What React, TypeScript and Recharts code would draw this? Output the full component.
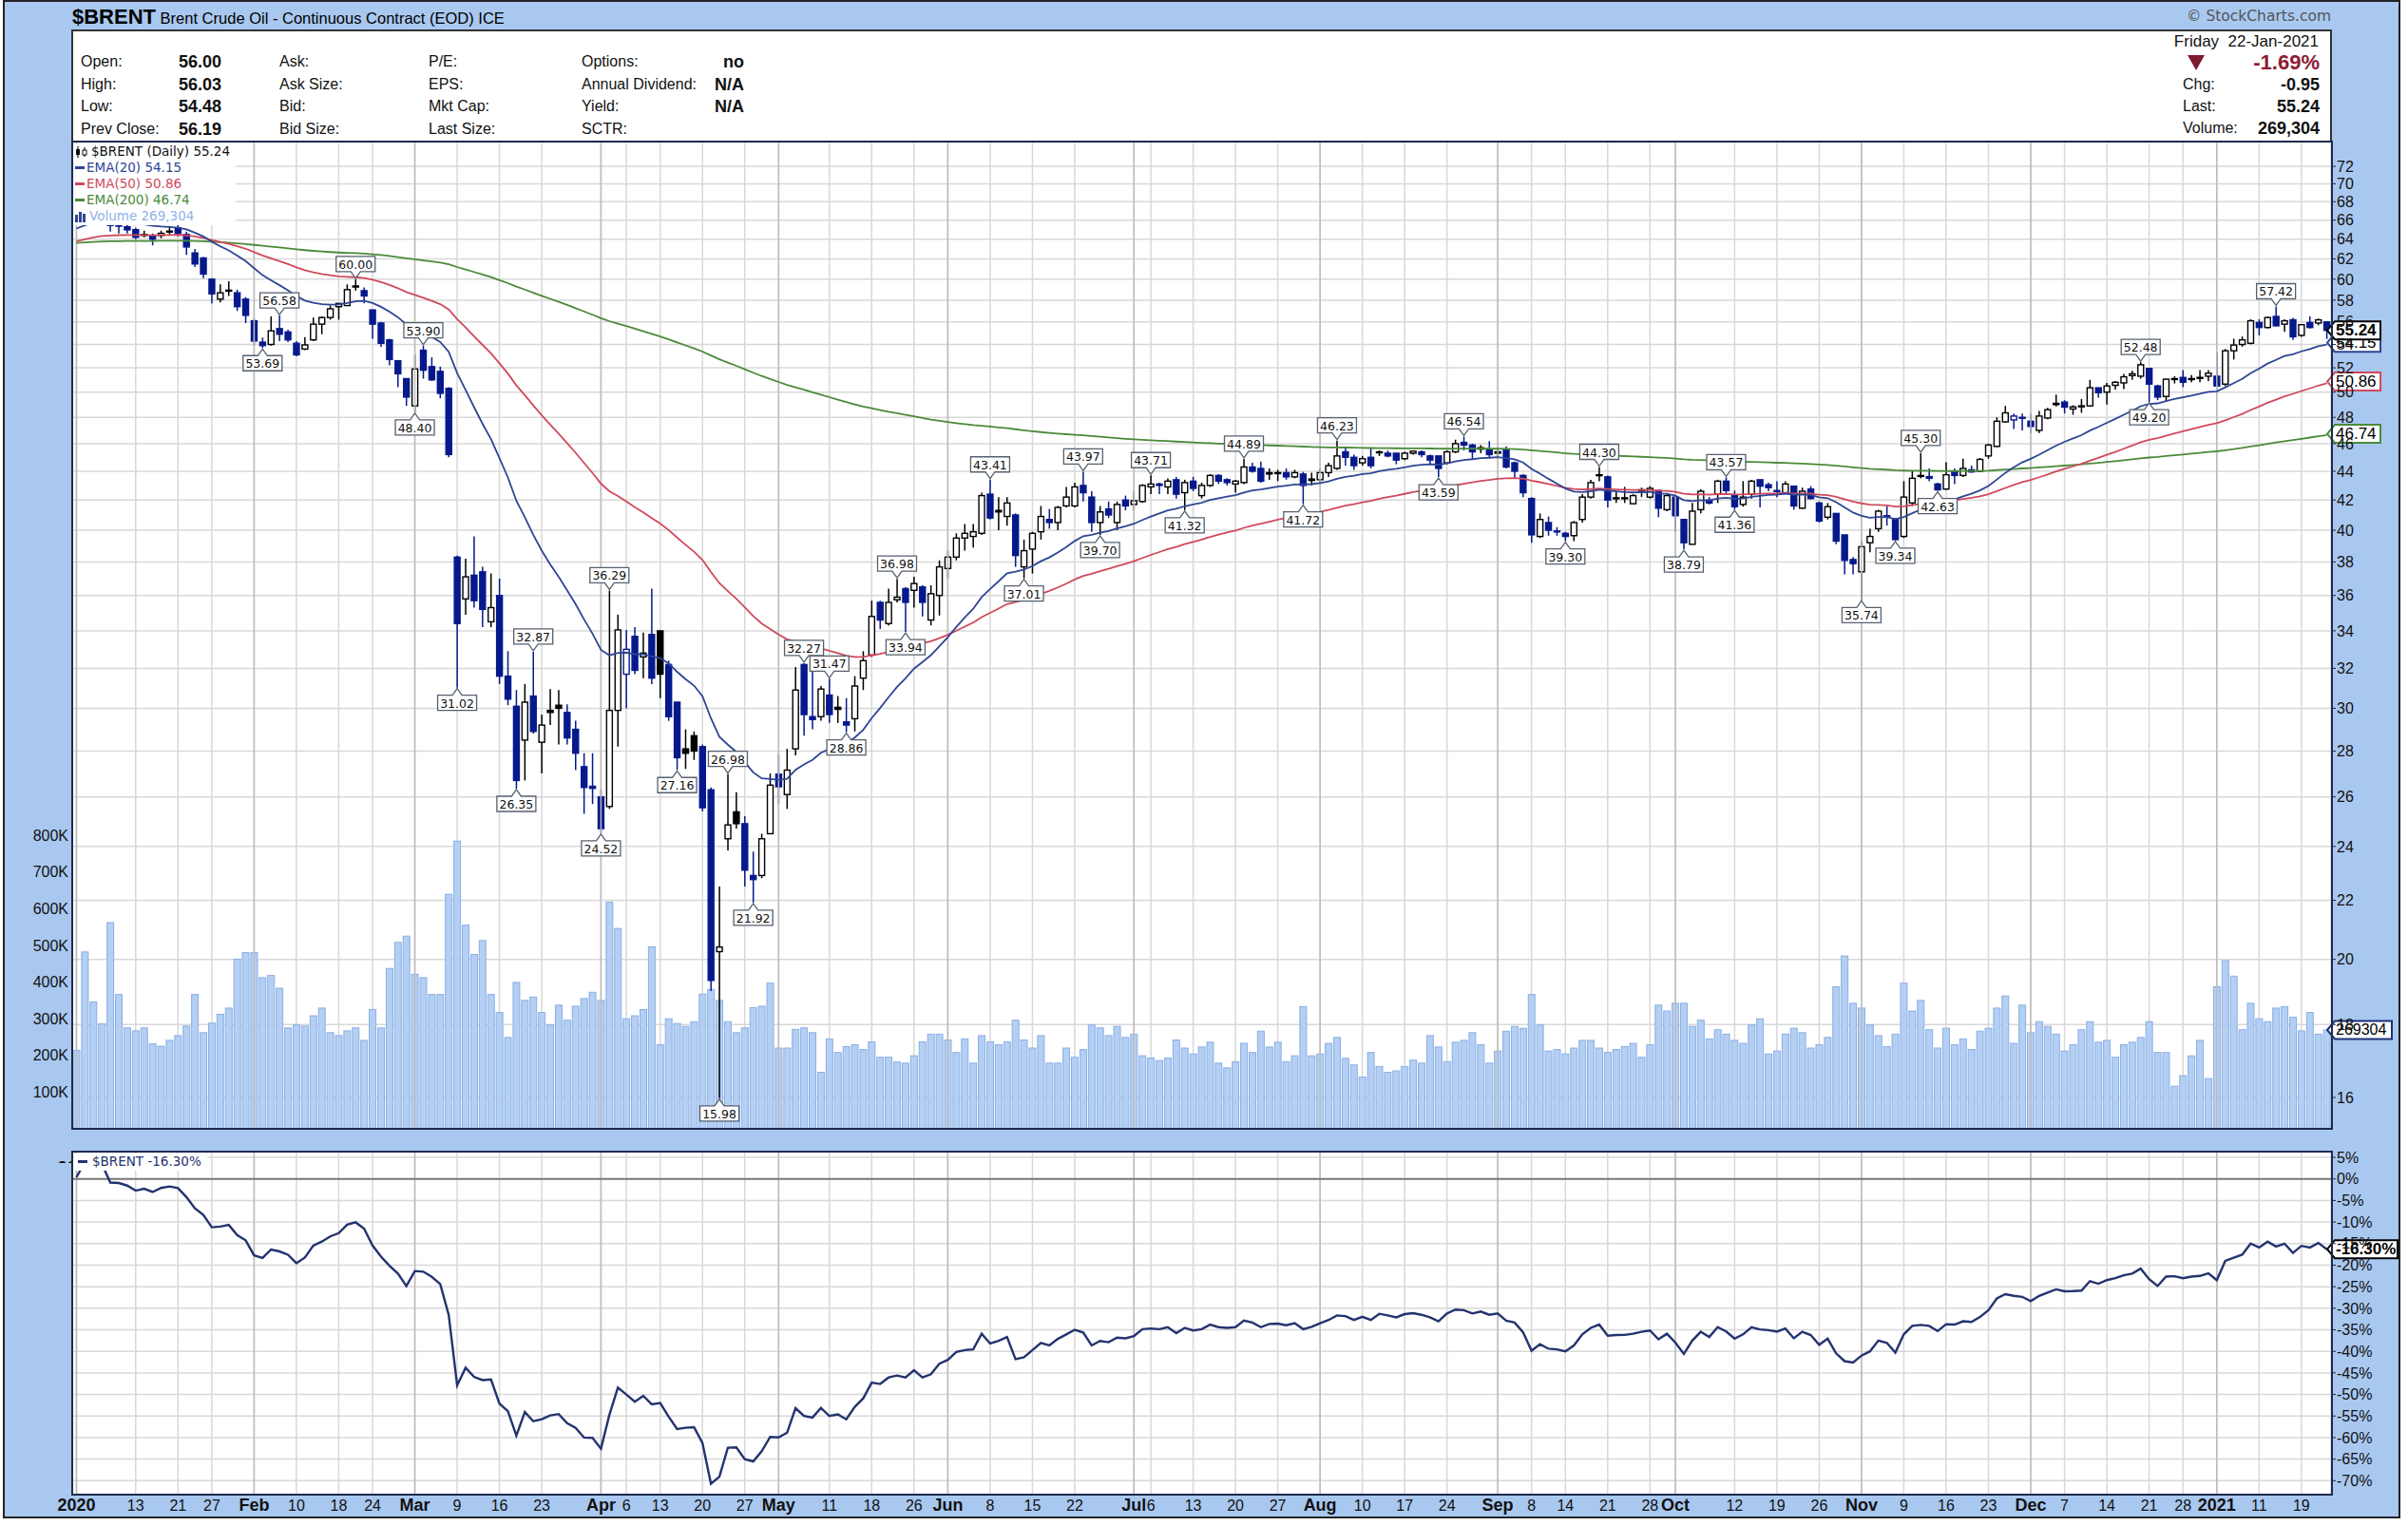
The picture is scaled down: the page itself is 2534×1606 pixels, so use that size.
import React from "react";
import { ComposedChart, Bar, Line, XAxis, YAxis, CartesianGrid, ReferenceLine } from "recharts";

// ---------------- data ----------------
const HOLIDAYS = ["2020-01-20", "2020-02-17", "2020-04-10", "2020-05-25", "2020-07-03", "2020-09-07", "2020-11-26", "2020-12-25", "2021-01-01", "2021-01-18"];

function tradingDays(): string[] {
  const out: string[] = [];
  const d = new Date(Date.UTC(2020, 0, 2));
  const end = Date.UTC(2021, 0, 22);
  while (d.getTime() <= end) {
    const wd = d.getUTCDay();
    const s = d.toISOString().slice(0, 10);
    if (wd !== 0 && wd !== 6 && !HOLIDAYS.includes(s)) out.push(s);
    d.setUTCDate(d.getUTCDate() + 1);
  }
  return out;
}
const DATES = tradingDays();

const OPEN = [
  66.00, 66.40, 68.90, 68.90, 68.30, 65.70, 65.30, 65.00, 64.50, 64.40,
  64.40, 64.80, 65.20, 64.50, 62.60, 62.10, 60.00, 58.10, 58.85, 58.70,
  58.10, 56.10, 54.20, 54.00, 55.40, 55.10, 54.10, 53.60, 54.40, 55.80,
  56.40, 57.40, 57.50, 59.25, 58.90, 57.10, 55.90, 54.40, 52.60, 51.10,
  48.90, 53.50, 52.10, 51.70, 50.30, 38.30, 35.80, 37.20, 37.40, 34.50,
  36.00, 31.60, 30.10, 28.50, 30.60, 28.40, 29.90, 30.15, 29.80, 29.00,
  27.30, 26.45, 26.00, 25.60, 29.90, 31.70, 33.70, 32.60, 33.80, 34.00,
  32.20, 30.30, 28.10, 28.70, 28.20, 26.30, 20.25, 24.30, 25.38, 24.90,
  22.90, 22.90, 24.50, 26.97, 26.10, 28.10, 32.20, 29.60, 29.60, 30.65,
  30.05, 29.35, 29.50, 31.50, 32.70, 35.60, 34.40, 35.75, 36.40, 36.30,
  36.50, 34.60, 36.00, 37.60, 38.30, 39.50, 39.60, 39.80, 42.40, 41.30,
  40.90, 41.00, 37.70, 38.80, 39.90, 40.70, 40.50, 41.60, 41.60, 43.00,
  42.20, 40.50, 41.40, 40.50, 42.00, 41.70, 41.90, 42.90, 43.10, 42.90,
  43.40, 42.50, 43.30, 42.30, 43.00, 43.70, 43.40, 43.10, 43.20, 44.30,
  44.20, 43.90, 43.90, 43.90, 43.60, 43.80, 43.45, 43.40, 43.90, 44.20,
  45.40, 45.00, 44.60, 45.00, 45.40, 45.30, 45.30, 44.90, 45.30, 45.40,
  45.10, 45.10, 44.60, 45.40, 46.10, 45.90, 45.60, 45.60, 45.30, 45.60,
  44.60, 43.70, 42.10, 39.60, 40.50, 39.95, 39.80, 39.65, 40.70, 42.20,
  43.75, 43.60, 42.15, 42.15, 41.75, 42.70, 42.20, 42.65, 41.35, 42.20,
  40.70, 39.10, 41.35, 42.00, 42.40, 43.30, 42.30, 41.70, 42.40, 43.40,
  43.05, 42.65, 42.50, 42.95, 41.45, 42.75, 41.80, 40.85, 41.10, 39.70,
  38.15, 37.40, 39.20, 40.10, 40.95, 40.75, 39.60, 41.80, 43.70, 43.62,
  43.10, 42.75, 43.95, 43.70, 43.95, 44.00, 45.10, 45.80, 47.65, 47.80,
  48.00, 47.70, 47.00, 47.95, 49.00, 49.20, 48.65, 48.85, 48.90, 50.35,
  50.00, 50.55, 50.75, 51.35, 51.30, 51.95, 50.50, 49.65, 51.05, 51.20,
  51.10, 51.20, 51.30, 51.30, 50.65, 53.45, 54.00, 54.10, 55.95, 55.50,
  56.50, 55.80, 56.20, 54.80, 55.95, 55.90, 56.00,
];
const HIGH = [
  66.60, 69.50, 70.70, 69.20, 71.75, 66.00, 65.70, 65.20, 64.90, 64.60,
  64.90, 65.30, 65.50, 64.80, 63.00, 62.20, 60.10, 59.50, 59.80, 59.00,
  58.30, 56.30, 54.60, 56.50, 56.58, 55.30, 54.30, 54.65, 56.40, 56.50,
  57.50, 57.70, 59.50, 60.00, 59.20, 57.10, 56.00, 54.50, 52.60, 51.10,
  53.10, 53.90, 52.90, 52.10, 50.40, 38.40, 38.20, 39.60, 37.70, 37.30,
  37.00, 32.90, 30.90, 31.20, 32.87, 29.70, 30.95, 30.90, 30.20, 29.40,
  27.90, 27.90, 26.30, 36.29, 34.90, 34.05, 34.20, 33.90, 36.40, 34.00,
  32.40, 30.30, 29.00, 28.90, 28.30, 26.40, 22.50, 26.98, 26.20, 25.20,
  23.80, 24.50, 27.00, 27.86, 28.10, 32.07, 32.27, 31.90, 31.10, 31.47,
  30.60, 30.50, 31.60, 32.90, 35.70, 35.70, 36.40, 36.98, 36.50, 37.10,
  36.60, 36.60, 38.10, 38.70, 39.80, 40.40, 40.40, 42.50, 43.41, 42.20,
  42.20, 41.10, 39.40, 39.90, 41.60, 41.40, 41.60, 42.90, 43.20, 43.97,
  42.60, 41.60, 41.90, 41.90, 42.30, 42.60, 43.10, 43.71, 43.20, 43.50,
  43.60, 43.40, 43.60, 43.20, 43.80, 43.80, 43.50, 43.40, 44.89, 44.60,
  44.70, 44.20, 44.10, 44.20, 44.10, 43.95, 43.90, 44.20, 44.60, 46.23,
  45.70, 45.20, 45.10, 45.70, 45.50, 45.50, 45.30, 45.40, 45.50, 45.50,
  45.20, 45.10, 45.50, 46.30, 46.54, 46.00, 45.90, 46.20, 45.70, 45.80,
  44.70, 43.80, 42.20, 41.10, 40.90, 40.20, 39.90, 40.60, 42.40, 43.40,
  44.30, 43.70, 42.60, 42.90, 42.40, 42.85, 42.95, 42.70, 42.45, 42.30,
  40.75, 41.80, 42.75, 42.20, 43.40, 43.57, 42.65, 43.30, 43.40, 43.40,
  43.20, 43.30, 43.30, 42.95, 42.85, 42.95, 41.90, 41.80, 41.10, 39.70,
  38.30, 39.30, 40.10, 41.35, 41.57, 40.75, 43.30, 44.00, 45.30, 44.20,
  43.20, 44.65, 44.20, 44.90, 44.40, 44.95, 46.00, 48.00, 48.90, 48.30,
  48.30, 48.30, 48.50, 48.75, 49.80, 49.35, 48.95, 49.45, 51.00, 50.35,
  50.75, 50.90, 51.50, 51.75, 52.48, 52.00, 50.60, 51.10, 51.30, 51.80,
  51.40, 51.80, 51.80, 53.30, 53.60, 54.50, 54.70, 56.24, 56.24, 56.50,
  57.42, 56.24, 56.38, 55.80, 56.50, 56.30, 56.03,
];
const LOW = [
  65.60, 66.20, 68.30, 67.90, 64.80, 64.60, 64.60, 64.00, 64.20, 63.37,
  64.10, 64.50, 64.30, 62.40, 61.20, 60.10, 57.70, 57.80, 58.40, 57.00,
  55.90, 53.90, 53.69, 53.90, 54.30, 54.20, 53.00, 53.50, 54.30, 54.90,
  56.20, 56.20, 57.50, 58.90, 57.70, 54.50, 53.80, 52.20, 50.40, 48.90,
  48.40, 51.10, 50.90, 49.50, 45.00, 31.02, 34.90, 35.30, 34.20, 34.20,
  31.20, 30.15, 26.35, 26.70, 28.80, 27.00, 29.20, 28.30, 28.30, 27.15,
  25.30, 25.70, 24.52, 25.50, 28.20, 30.00, 31.70, 31.50, 31.20, 30.50,
  29.40, 27.16, 27.20, 27.60, 25.40, 19.00, 15.98, 23.85, 24.70, 22.50,
  21.92, 22.80, 24.50, 25.70, 25.50, 27.80, 28.70, 29.00, 29.40, 29.30,
  29.30, 28.86, 28.90, 30.90, 32.60, 34.10, 34.30, 35.60, 33.94, 35.30,
  34.80, 34.30, 34.85, 37.00, 38.10, 38.70, 38.90, 39.70, 40.70, 40.00,
  40.30, 37.70, 37.01, 37.30, 39.40, 40.10, 40.00, 41.50, 41.50, 41.90,
  39.90, 39.70, 40.80, 40.00, 41.30, 41.30, 41.80, 42.40, 42.40, 42.40,
  42.10, 41.32, 42.60, 42.10, 42.90, 43.10, 43.00, 42.50, 43.10, 43.90,
  43.20, 43.40, 43.30, 43.40, 43.50, 41.72, 43.00, 43.10, 43.60, 44.10,
  44.40, 44.10, 44.40, 44.20, 45.10, 45.00, 44.50, 44.80, 45.20, 45.00,
  44.50, 43.59, 44.50, 45.30, 45.50, 44.90, 45.30, 45.00, 45.00, 44.20,
  43.50, 42.20, 39.20, 39.50, 39.65, 39.65, 39.30, 39.30, 40.50, 42.10,
  43.30, 41.50, 41.80, 41.80, 41.70, 42.20, 42.10, 40.85, 41.25, 39.90,
  38.79, 39.10, 41.10, 41.70, 41.80, 42.40, 41.36, 41.55, 42.10, 41.50,
  42.60, 42.20, 42.45, 41.35, 41.40, 42.05, 40.50, 40.70, 39.10, 37.25,
  37.25, 35.74, 38.60, 39.90, 40.30, 39.34, 39.50, 41.60, 43.50, 43.30,
  42.63, 42.70, 43.10, 43.60, 43.90, 43.95, 44.90, 45.75, 47.60, 47.10,
  47.00, 46.80, 46.80, 47.85, 48.85, 48.30, 48.20, 48.35, 48.85, 49.55,
  49.00, 50.20, 50.25, 51.00, 51.10, 49.20, 49.35, 49.25, 50.70, 50.40,
  50.80, 50.80, 50.90, 50.40, 50.50, 52.70, 53.80, 54.00, 54.80, 55.40,
  55.60, 55.10, 54.40, 54.67, 55.40, 55.70, 54.48,
];
const CLOSE = [
  66.25, 68.60, 68.90, 68.30, 65.44, 65.37, 64.98, 64.20, 64.49, 64.00,
  64.62, 64.85, 64.59, 63.21, 61.50, 60.50, 58.60, 58.70, 58.95, 57.40,
  56.60, 54.30, 53.90, 55.20, 54.90, 54.40, 53.10, 53.96, 55.80, 56.40,
  57.20, 57.70, 59.00, 59.35, 58.40, 55.80, 54.10, 52.70, 51.50, 49.60,
  51.90, 51.80, 51.00, 49.90, 45.20, 34.40, 37.10, 35.70, 35.20, 35.30,
  31.60, 30.45, 26.70, 30.30, 28.90, 29.20, 29.80, 30.00, 28.60, 27.90,
  26.40, 26.36, 24.70, 29.90, 34.05, 33.00, 31.90, 32.80, 31.50, 31.70,
  29.60, 27.70, 27.90, 28.00, 25.55, 19.33, 20.40, 24.85, 24.90, 23.10,
  22.75, 24.30, 26.50, 26.43, 27.15, 30.90, 29.70, 29.46, 30.95, 29.70,
  29.95, 29.20, 31.10, 32.40, 34.80, 34.60, 35.60, 35.90, 35.60, 36.70,
  35.60, 36.10, 37.70, 38.30, 39.50, 39.80, 39.90, 42.30, 40.80, 41.20,
  41.80, 38.40, 38.70, 39.80, 40.90, 40.50, 41.50, 42.20, 42.90, 42.50,
  40.50, 41.20, 41.00, 41.70, 41.60, 41.95, 43.00, 43.10, 43.00, 43.30,
  42.40, 43.20, 42.80, 43.00, 43.70, 43.30, 43.20, 43.30, 44.30, 44.00,
  43.30, 43.80, 43.85, 43.60, 43.90, 43.00, 43.35, 43.90, 44.40, 45.10,
  45.00, 44.40, 44.90, 44.40, 45.35, 45.10, 44.80, 45.30, 45.45, 45.20,
  44.80, 44.20, 45.40, 46.00, 45.90, 45.40, 45.70, 45.20, 45.40, 44.30,
  44.00, 42.50, 39.70, 40.70, 40.00, 39.90, 39.60, 40.50, 42.20, 43.20,
  43.70, 42.00, 42.10, 42.12, 42.30, 42.60, 42.80, 41.45, 42.30, 40.95,
  39.20, 41.25, 42.60, 41.80, 43.30, 42.65, 41.55, 42.20, 43.30, 42.95,
  42.85, 42.62, 43.10, 41.60, 42.60, 42.10, 40.60, 41.55, 39.30, 38.10,
  37.90, 38.95, 39.60, 41.25, 40.90, 39.40, 42.20, 43.50, 43.65, 43.50,
  42.70, 43.75, 43.70, 44.20, 44.10, 44.85, 45.90, 47.70, 48.35, 48.10,
  47.95, 47.30, 48.10, 48.60, 49.10, 48.80, 48.82, 48.90, 50.35, 49.95,
  50.50, 50.80, 51.25, 51.50, 52.26, 50.65, 49.60, 51.05, 51.10, 50.80,
  51.05, 51.15, 51.55, 50.50, 53.45, 53.95, 54.40, 56.10, 55.50, 56.40,
  55.65, 56.10, 54.67, 55.75, 55.50, 56.19, 55.24,
];
const VOLUME_K = [
  214, 482, 346, 286, 562, 366, 275, 267, 275, 232,
  225, 241, 254, 280, 366, 262, 288, 312, 329, 462,
  480, 480, 412, 418, 383, 275, 283, 280, 308, 329,
  262, 254, 267, 275, 241, 325, 275, 437, 508, 525,
  421, 412, 366, 366, 639, 784, 555, 475, 513, 366,
  317, 249, 399, 350, 359, 317, 283, 337, 296, 334,
  355, 372, 350, 618, 546, 300, 308, 325, 496, 229,
  300, 287, 279, 292, 367, 380, 350, 292, 262, 275,
  330, 334, 397, 220, 220, 271, 275, 262, 154, 245,
  208, 224, 229, 216, 237, 195, 195, 182, 179, 199,
  237, 258, 258, 242, 208, 245, 179, 254, 237, 229,
  237, 296, 242, 220, 254, 179, 179, 220, 195, 216,
  283, 275, 254, 279, 249, 258, 199, 193, 186, 193,
  242, 220, 204, 223, 236, 179, 166, 183, 233, 208,
  266, 223, 236, 183, 199, 333, 199, 204, 233, 249,
  192, 174, 141, 208, 170, 154, 158, 170, 187, 179,
  254, 223, 183, 236, 241, 262, 229, 179, 212, 266,
  279, 274, 366, 283, 212, 216, 204, 220, 241, 241,
  220, 208, 216, 224, 233, 195, 229, 337, 321, 342,
  342, 279, 296, 245, 270, 258, 241, 233, 283, 300,
  204, 212, 258, 274, 262, 220, 229, 249, 387, 471,
  342, 329, 283, 254, 224, 258, 397, 321, 350, 270,
  220, 274, 229, 245, 216, 266, 274, 329, 362, 233,
  337, 262, 292, 279, 258, 212, 229, 270, 292, 236,
  241, 195, 229, 236, 249, 292, 208, 208, 116, 145,
  199, 241, 137, 387, 458, 416, 270, 342, 300, 292,
  329, 333, 304, 267, 317, 258, 269.304,
];

const PREV_CLOSE_2019 = 66.0;
const EMA20_SEED = 65.0;
const EMA50_SEED = 63.7;
const EMA200_SEED = 63.6;

const ANNOT_HIGH_DATES = ["2020-02-06", "2020-02-20", "2020-03-03", "2020-03-20", "2020-04-02", "2020-04-23", "2020-05-06", "2020-05-11", "2020-05-21", "2020-06-08", "2020-06-23", "2020-07-06", "2020-07-21", "2020-08-05", "2020-08-26", "2020-09-18", "2020-10-09", "2020-11-11", "2020-12-18", "2021-01-13"];
const ANNOT_LOW_DATES = ["2020-02-04", "2020-03-02", "2020-03-09", "2020-03-18", "2020-04-01", "2020-04-15", "2020-04-22", "2020-04-28", "2020-05-13", "2020-05-22", "2020-06-12", "2020-06-25", "2020-07-10", "2020-07-30", "2020-08-21", "2020-09-14", "2020-10-02", "2020-10-12", "2020-11-02", "2020-11-06", "2020-11-13", "2020-12-21"];

const TICK_DATES = ["2020-01-02", "2020-01-13", "2020-01-21", "2020-01-27", "2020-02-03", "2020-02-10", "2020-02-18", "2020-02-24", "2020-03-02", "2020-03-09", "2020-03-16", "2020-03-23", "2020-04-01", "2020-04-06", "2020-04-13", "2020-04-20", "2020-04-27", "2020-05-01", "2020-05-11", "2020-05-18", "2020-05-26", "2020-06-01", "2020-06-08", "2020-06-15", "2020-06-22", "2020-07-01", "2020-07-06", "2020-07-13", "2020-07-20", "2020-07-27", "2020-08-03", "2020-08-10", "2020-08-17", "2020-08-24", "2020-09-01", "2020-09-08", "2020-09-14", "2020-09-21", "2020-09-28", "2020-10-01", "2020-10-12", "2020-10-19", "2020-10-26", "2020-11-02", "2020-11-09", "2020-11-16", "2020-11-23", "2020-12-01", "2020-12-07", "2020-12-14", "2020-12-21", "2020-12-28", "2021-01-04", "2021-01-11", "2021-01-19"];
const TICK_LABELS = ["2020", "13", "21", "27", "Feb", "10", "18", "24", "Mar", "9", "16", "23", "Apr", "6", "13", "20", "27", "May", "11", "18", "26", "Jun", "8", "15", "22", "Jul", "6", "13", "20", "27", "Aug", "10", "17", "24", "Sep", "8", "14", "21", "28", "Oct", "12", "19", "26", "Nov", "9", "16", "23", "Dec", "7", "14", "21", "28", "2021", "11", "19"];

const PRICE_TICKS = [16, 18, 20, 22, 24, 26, 28, 30, 32, 34, 36, 38, 40, 42, 44, 46, 48, 50, 52, 54, 56, 58, 60, 62, 64, 66, 68, 70, 72];
const PRICE_MINOR = [16, 17, 18, 19, 20, 21, 22, 23, 24, 25, 26, 27, 28, 29, 30, 31, 32, 33, 34, 35, 36, 37, 38, 39, 40, 41, 42, 43, 44, 45, 46, 47, 48, 49, 50, 51, 52, 53, 54, 55, 56, 57, 58, 59, 60, 61, 62, 63, 64, 65, 66, 67, 68, 69, 70, 71, 72, 73, 74];
const VOL_TICKS = [100, 200, 300, 400, 500, 600, 700, 800];
const PERF_TICKS = [5, 0, -5, -10, -15, -20, -25, -30, -35, -40, -45, -50, -55, -60, -65, -70];
const PERF_MINOR = [6, 5, 4, 3, 2, 1, 0, -1, -2, -3, -4, -5, -6, -7, -8, -9, -10, -11, -12, -13, -14, -15, -16, -17, -18, -19, -20, -21, -22, -23, -24, -25, -26, -27, -28, -29, -30, -31, -32, -33, -34, -35, -36, -37, -38, -39, -40, -41, -42, -43, -44, -45, -46, -47, -48, -49, -50, -51, -52, -53, -54, -55, -56, -57, -58, -59, -60, -61, -62, -63, -64, -65, -66, -67, -68, -69, -70, -71, -72, -73];

const PRICE_DOMAIN = [15.21, 74.94];
const VOL_DOMAIN = [0, 2690];
const PERF_DOMAIN = [-73.24, 6.33];

// ---------------- derived ----------------
function ema(values: number[], period: number, seed: number) {
  const k = 2 / (period + 1);
  let e = seed;
  return values.map((v) => (e += k * (v - e)));
}
const E20 = ema(CLOSE, 20, EMA20_SEED);
const E50 = ema(CLOSE, 50, EMA50_SEED);
const E200 = ema(CLOSE, 200, EMA200_SEED);

const rows = DATES.map((date, i) => ({
  date,
  o: OPEN[i],
  h: HIGH[i],
  l: LOW[i],
  c: CLOSE[i],
  pc: i > 0 ? CLOSE[i - 1] : PREV_CLOSE_2019,
  vol: VOLUME_K[i],
  e20: E20[i],
  e50: E50[i],
  e200: E200[i],
  perf: (CLOSE[i] / PREV_CLOSE_2019 - 1) * 100,
  annH: ANNOT_HIGH_DATES.includes(date) ? HIGH[i] : null,
  annL: ANNOT_LOW_DATES.includes(date) ? LOW[i] : null,
}));

const MONTH_DATES = TICK_DATES.filter((_, i) => isNaN(Number(TICK_LABELS[i])) || TICK_LABELS[i].length === 4);

// ---------------- styles ----------------
const SANS = "Liberation Sans, Arial, sans-serif";
const DV = "DejaVu Sans, Verdana, sans-serif";
const FRAME = "#a9c8f0";
const BORDER = "#1d2a4c";
const CANDLE_BLUE = "#06198c";
const C_E20 = "#2f4595";
const C_E50 = "#d04a5c";
const C_E200 = "#4b8a3a";
const C_PERF = "#24336f";
const GRID = "#d8d8d8";

// ---------------- shapes ----------------
const EmptyTick = () => <g />;

const DateTick = (p: any) => {
  const { x, y, payload } = p;
  const i = TICK_DATES.indexOf(payload.value);
  const label = i >= 0 ? TICK_LABELS[i] : "";
  const bold = isNaN(Number(label)) || label.length === 4;
  return (
    <text x={x} y={y + 17} textAnchor="middle" fontFamily={SANS} fontSize={bold ? 18 : 16} fontWeight={bold ? 700 : 400} fill="#111">
      {label}
    </text>
  );
};

const VolShape = (p: any) => {
  const { x, y, width, height } = p;
  if (height == null || isNaN(height)) return <g />;
  const cx = x + width / 2;
  const w = 7;
  return <rect x={cx - w / 2} y={y} width={w} height={Math.max(height, 0)} fill="#b3cff4" stroke="#8caee2" strokeWidth={1} />;
};

const Candle = (p: any) => {
  const { x, y, width, height, payload } = p;
  if (!payload || height == null || isNaN(height)) return <g />;
  const { o, h, l, c, pc } = payload;
  const top = Math.min(y, y + height);
  const bot = Math.max(y, y + height);
  const lh = Math.log(h);
  const ll = Math.log(l);
  const pix = (v: number) => (lh === ll ? top : top + ((lh - Math.log(v)) / (lh - ll)) * (bot - top));
  const cx = x + width / 2;
  const color = c >= pc ? "#000" : CANDLE_BLUE;
  const hollow = c > o;
  const yo = pix(o);
  const yc = pix(c);
  const bTop = Math.min(yo, yc);
  const bh = Math.max(Math.abs(yo - yc), 1);
  const bw = 6;
  return (
    <g>
      <line x1={cx} x2={cx} y1={top} y2={bot} stroke={color} strokeWidth={1.5} />
      <rect x={cx - bw / 2} y={bTop} width={bw} height={bh} fill={hollow ? "#fff" : color} stroke={color} strokeWidth={1.4} />
    </g>
  );
};

const makeAnnot = (above: boolean) => (p: any) => {
  const { cx, cy, value, index } = p;
  if (value == null || cy == null || isNaN(cy)) return <g key={`a${above ? "h" : "l"}${index}`} />;
  const txt = Number(value).toFixed(2);
  const w = 41;
  const h = 16;
  const n = 7;
  const tip = above ? cy - 1 : cy + 1;
  const edge = above ? tip - n : tip + n;
  const far = above ? edge - h : edge + h;
  const L = cx - w / 2;
  const R = cx + w / 2;
  const d = `M${L},${far} H${R} V${edge} H${cx + 5} L${cx},${tip} L${cx - 5},${edge} H${L} Z`;
  return (
    <g key={`a${above ? "h" : "l"}${index}`}>
      <path d={d} fill="#fff" stroke="#55606e" strokeWidth={1.3} />
      <text x={cx} y={(far + edge) / 2 + 0.5} textAnchor="middle" dominantBaseline="central" fontFamily={DV} fontSize={12.5} fill="#111">
        {txt}
      </text>
    </g>
  );
};

function tagLabel(text: string, border: string, w: number, bold: boolean, color = "#000", fs = 17) {
  return (p: any) => {
    const vb = p.viewBox || {};
    const x0 = (vb.x ?? 0) + (vb.width ?? 0) - 4;
    const y = vb.y ?? 0;
    const hh = 9.5;
    return (
      <g>
        <path d={`M${x0},${y} L${x0 + 8},${y - hh} H${x0 + w} V${y + hh} H${x0 + 8} Z`} fill="#fff" stroke={border} strokeWidth={2} />
        <text x={x0 + 9} y={y + 1} dominantBaseline="middle" fontFamily={SANS} fontSize={fs} fontWeight={bold ? 700 : 400} fill={color}>
          {text}
        </text>
      </g>
    );
  };
}

// ---------------- small html helpers ----------------
const TL = ({ x, y, children, style }: any) => (
  <div style={{ position: "absolute", left: x, top: y, transform: "translateY(-50%)", whiteSpace: "nowrap", lineHeight: 1, ...style }}>{children}</div>
);
const TR = ({ x, y, children, style }: any) => (
  <div style={{ position: "absolute", right: 2534 - x, top: y, transform: "translateY(-50%)", whiteSpace: "nowrap", lineHeight: 1, textAlign: "right", ...style }}>{children}</div>
);

const INFO_ROWS = [65, 89, 112, 136];
const INFO_LABEL = { fontFamily: SANS, fontSize: 16, color: "#111" };
const INFO_VAL = { fontFamily: SANS, fontSize: 18, fontWeight: 700, color: "#111" };

export default function App() {
  return (
    <div style={{ position: "relative", width: 2534, height: 1606, background: "#fff", overflow: "hidden", fontFamily: SANS }}>
      <style>{"body{margin:0}"}</style>
      {/* blue frame */}
      <div style={{ position: "absolute", left: 3, top: 0, width: 2523, height: 1598, background: FRAME, border: "2px solid #222", boxSizing: "border-box" }} />

      {/* title */}
      <TL x={76} y={18} style={{ fontFamily: SANS }}>
        <span style={{ fontWeight: 700, fontSize: 22 }}>$BRENT</span>
        <span style={{ fontSize: 16.5 }}> Brent Crude Oil - Continuous Contract (EOD) ICE</span>
      </TL>
      <TR x={2453} y={18} style={{ fontSize: 15.5, color: "#555", fontFamily: DV }}>© StockCharts.com</TR>

      {/* info box */}
      <div style={{ position: "absolute", left: 75, top: 31, width: 2379, height: 119, background: "#fff", border: "2px solid #333", boxSizing: "border-box" }} />
      {[["Open:", "56.00", "Ask:", "P/E:", "Options:", "no"], ["High:", "56.03", "Ask Size:", "EPS:", "Annual Dividend:", "N/A"], ["Low:", "54.48", "Bid:", "Mkt Cap:", "Yield:", "N/A"], ["Prev Close:", "56.19", "Bid Size:", "Last Size:", "SCTR:", ""]].map((r, i) => (
        <React.Fragment key={i}>
          <TL x={85} y={INFO_ROWS[i]} style={INFO_LABEL}>{r[0]}</TL>
          <TR x={233} y={INFO_ROWS[i]} style={INFO_VAL}>{r[1]}</TR>
          <TL x={294} y={INFO_ROWS[i]} style={INFO_LABEL}>{r[2]}</TL>
          <TL x={451} y={INFO_ROWS[i]} style={INFO_LABEL}>{r[3]}</TL>
          <TL x={612} y={INFO_ROWS[i]} style={INFO_LABEL}>{r[4]}</TL>
          <TR x={783} y={INFO_ROWS[i]} style={INFO_VAL}>{r[5]}</TR>
        </React.Fragment>
      ))}
      <TR x={2440} y={43} style={{ fontFamily: SANS, fontSize: 17, color: "#111" }}>Friday&nbsp;&nbsp;22-Jan-2021</TR>
      <svg style={{ position: "absolute", left: 2302, top: 58 }} width={18} height={16}>
        <path d="M0,0 H18 L9,16 Z" fill="#7e1a30" />
      </svg>
      <TR x={2441} y={66} style={{ fontFamily: SANS, fontSize: 22, fontWeight: 700, color: "#8c1c34" }}>-1.69%</TR>
      <TL x={2297} y={89} style={INFO_LABEL}>Chg:</TL>
      <TR x={2441} y={89} style={INFO_VAL}>-0.95</TR>
      <TL x={2297} y={112} style={INFO_LABEL}>Last:</TL>
      <TR x={2441} y={112} style={INFO_VAL}>55.24</TR>
      <TL x={2297} y={135} style={INFO_LABEL}>Volume:</TL>
      <TR x={2441} y={135} style={INFO_VAL}>269,304</TR>

      {/* price + volume panel */}
      <div style={{ position: "absolute", left: 0, top: 149 }}>
        <ComposedChart width={2534} height={1075} data={rows} margin={{ top: 0, right: 0, bottom: 12, left: 0 }} barCategoryGap={0} barGap={0}>
          <CartesianGrid xAxisId="m" yAxisId="px" stroke={GRID} strokeWidth={1.5} fill="#fff" />
          <XAxis xAxisId="d" dataKey="date" scale="band" interval={0} height={0} axisLine={false} tickLine={{ stroke: BORDER }} tickSize={4} tick={EmptyTick} />
          <XAxis xAxisId="m" dataKey="date" scale="band" ticks={TICK_DATES} interval={0} height={24} axisLine={false} tickLine={false} tickSize={0} tickMargin={0} tick={<DateTick />} />
          <XAxis xAxisId="c" dataKey="date" scale="band" hide />
          <YAxis yAxisId="vol" orientation="left" width={76} domain={VOL_DOMAIN} ticks={VOL_TICKS} interval={0} axisLine={false} tickLine={false} tickSize={0} tickMargin={4} tickFormatter={(v: number) => `${v}K`} tick={{ fontSize: 16, fill: "#111", fontFamily: SANS }} />
          <YAxis yAxisId="pxm" orientation="right" width={0} scale="log" domain={PRICE_DOMAIN} allowDataOverflow ticks={PRICE_MINOR} interval={0} axisLine={false} tickLine={{ stroke: BORDER }} tickSize={3} tick={EmptyTick} />
          <YAxis yAxisId="px" orientation="right" width={81} scale="log" domain={PRICE_DOMAIN} allowDataOverflow ticks={PRICE_TICKS} interval={0} axisLine={false} tickLine={{ stroke: BORDER }} tickSize={5} tickMargin={1} tick={{ fontSize: 16, fill: "#111", fontFamily: SANS }} />
          {MONTH_DATES.map((d) => (
            <ReferenceLine key={d} xAxisId="m" yAxisId="px" x={d} stroke="#bcbcbc" strokeWidth={1.5} />
          ))}
          <Bar xAxisId="m" yAxisId="vol" dataKey="vol" shape={VolShape} isAnimationActive={false} />
          <Line xAxisId="m" yAxisId="px" dataKey="e200" stroke={C_E200} strokeWidth={1.8} dot={false} activeDot={false} isAnimationActive={false} />
          <Line xAxisId="m" yAxisId="px" dataKey="e50" stroke={C_E50} strokeWidth={1.8} dot={false} activeDot={false} isAnimationActive={false} />
          <Line xAxisId="m" yAxisId="px" dataKey="e20" stroke={C_E20} strokeWidth={1.8} dot={false} activeDot={false} isAnimationActive={false} />
          <Bar xAxisId="c" yAxisId="px" dataKey={(r: any) => [r.l, r.h]} shape={Candle} isAnimationActive={false} />
          <Line xAxisId="m" yAxisId="px" dataKey="annH" stroke="none" dot={makeAnnot(true)} activeDot={false} isAnimationActive={false} />
          <Line xAxisId="m" yAxisId="px" dataKey="annL" stroke="none" dot={makeAnnot(false)} activeDot={false} isAnimationActive={false} />
          <ReferenceLine xAxisId="m" yAxisId="vol" y={269.304} stroke="none" label={tagLabel("269304", "#1c2f7a", 68, false, "#000", 16)} />
          <ReferenceLine xAxisId="m" yAxisId="px" y={46.74} stroke="none" label={tagLabel("46.74", C_E200, 56, false)} />
          <ReferenceLine xAxisId="m" yAxisId="px" y={50.86} stroke="none" label={tagLabel("50.86", C_E50, 56, false)} />
          <ReferenceLine xAxisId="m" yAxisId="px" y={54.15} stroke="none" label={tagLabel("54.15", C_E20, 56, false)} />
          <ReferenceLine xAxisId="m" yAxisId="px" y={55.24} stroke="none" label={tagLabel("55.24", "#000", 56, true)} />
        </ComposedChart>
      </div>

      {/* performance panel */}
      <div style={{ position: "absolute", left: 0, top: 1212 }}>
        <ComposedChart width={2534} height={394} data={rows} margin={{ top: 0, right: 0, bottom: 9, left: 76 }}>
          <CartesianGrid xAxisId="m" yAxisId="p" stroke={GRID} strokeWidth={1.5} fill="#fff" />
          <XAxis xAxisId="d" dataKey="date" scale="band" interval={0} height={0} axisLine={false} tickLine={{ stroke: BORDER }} tickSize={4} tick={EmptyTick} />
          <XAxis xAxisId="m" dataKey="date" scale="band" ticks={TICK_DATES} interval={0} height={24} axisLine={false} tickLine={false} tickSize={0} tickMargin={0} tick={<DateTick />} />
          <YAxis yAxisId="pm" orientation="right" width={0} domain={PERF_DOMAIN} allowDataOverflow ticks={PERF_MINOR} interval={0} axisLine={false} tickLine={{ stroke: BORDER }} tickSize={3} tick={EmptyTick} />
          <YAxis yAxisId="p" orientation="right" width={81} domain={PERF_DOMAIN} allowDataOverflow ticks={PERF_TICKS} interval={0} axisLine={false} tickLine={{ stroke: BORDER }} tickSize={5} tickMargin={1} tickFormatter={(v: number) => `${v}%`} tick={{ fontSize: 16, fill: "#111", fontFamily: SANS }} />
          {MONTH_DATES.map((d) => (
            <ReferenceLine key={d} xAxisId="m" yAxisId="p" x={d} stroke="#bcbcbc" strokeWidth={1.5} />
          ))}
          <ReferenceLine xAxisId="m" yAxisId="p" y={0} stroke="#7a7a7a" strokeWidth={2} />
          <Line xAxisId="m" yAxisId="p" dataKey="perf" stroke={C_PERF} strokeWidth={2.4} dot={false} activeDot={false} isAnimationActive={false} />
          <ReferenceLine xAxisId="m" yAxisId="p" y={-16.3} stroke="none" label={tagLabel("-16.30%", "#000", 74, true)} />
        </ComposedChart>
      </div>

      {/* plot borders */}
      <div style={{ position: "absolute", left: 75, top: 148, width: 2380, height: 1041, border: `2px solid ${BORDER}`, boxSizing: "border-box", pointerEvents: "none" }} />
      <div style={{ position: "absolute", left: 75, top: 1211, width: 2380, height: 363, border: `2px solid ${BORDER}`, boxSizing: "border-box", pointerEvents: "none" }} />

      {/* price legend */}
      <div style={{ position: "absolute", left: 77, top: 151, background: "#fff", padding: "0 6px 1px 2px", fontFamily: DV, fontSize: 13.5, lineHeight: "17px" }}>
        <div style={{ color: "#111", display: "flex", alignItems: "center" }}>
          <svg width={14} height={12} style={{ marginRight: 3 }}>
            <line x1={3} x2={3} y1={0} y2={12} stroke="#111" strokeWidth={1.2} />
            <rect x={1} y={3} width={4} height={6} fill="#111" />
            <line x1={10} x2={10} y1={1} y2={11} stroke="#111" strokeWidth={1.2} />
            <rect x={8} y={4} width={4} height={5} fill="#fff" stroke="#111" strokeWidth={1} />
          </svg>
          $BRENT (Daily) 55.24
        </div>
        <div style={{ color: C_E20, display: "flex", alignItems: "center" }}>
          <span style={{ display: "inline-block", width: 10, height: 3, background: C_E20, marginRight: 2 }} />EMA(20) 54.15
        </div>
        <div style={{ color: C_E50, display: "flex", alignItems: "center" }}>
          <span style={{ display: "inline-block", width: 10, height: 3, background: C_E50, marginRight: 2 }} />EMA(50) 50.86
        </div>
        <div style={{ color: C_E200, display: "flex", alignItems: "center" }}>
          <span style={{ display: "inline-block", width: 10, height: 3, background: C_E200, marginRight: 2 }} />EMA(200) 46.74
        </div>
        <div style={{ color: "#8fb3ea", display: "flex", alignItems: "center" }}>
          <svg width={13} height={12} style={{ marginRight: 2 }}>
            <rect x={0} y={4} width={3} height={8} fill="#2f4595" />
            <rect x={4} y={1} width={3} height={11} fill="#2f4595" />
            <rect x={8} y={3} width={3} height={9} fill="#2f4595" />
          </svg>
          Volume 269,304
        </div>
      </div>

      {/* performance legend */}
      <div style={{ position: "absolute", left: 78, top: 1214, background: "#fff", padding: "0 6px 1px 4px", fontFamily: DV, fontSize: 13.5, lineHeight: "17px", color: C_PERF, display: "flex", alignItems: "center" }}>
        <span style={{ display: "inline-block", width: 10, height: 3, background: C_PERF, marginRight: 5 }} />$BRENT -16.30%
      </div>
    </div>
  );
}
